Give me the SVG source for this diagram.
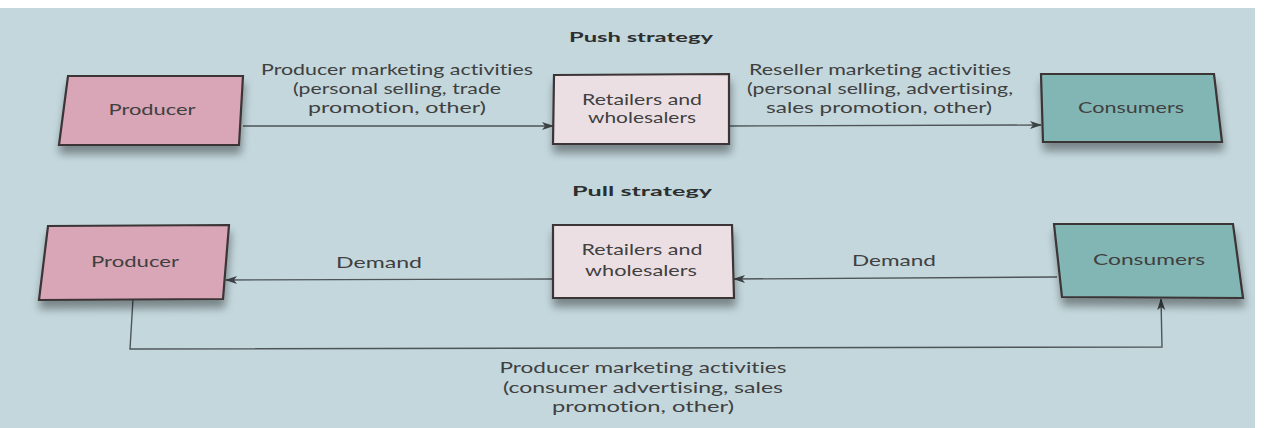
<svg xmlns="http://www.w3.org/2000/svg" width="1267" height="428" viewBox="0 0 1267 428">
<defs>
<style>
.t{font-family:Lato,"Open Sans","Liberation Sans",sans-serif;font-size:16px;fill:#404040;text-anchor:middle;font-variant-ligatures:none}
.h{font-family:Lato,"Open Sans","Liberation Sans",sans-serif;font-size:14px;font-weight:bold;fill:#2e2e2e;text-anchor:middle}
.box{stroke:#3b3436;stroke-width:2.2;stroke-linejoin:miter}
.prod{fill:#d8a6b6}
.ret{fill:#ecdfe4}
.con{fill:#82b6b4}
.ln{fill:none;stroke:#4e5558;stroke-width:1.4}
</style>
<marker id="ah" viewBox="0 0 12 10" refX="11" refY="5" markerWidth="12" markerHeight="10" orient="auto" markerUnits="userSpaceOnUse">
<path d="M0,1 L12,5 L0,9 L3,5 Z" fill="#3e4346"/>
</marker>
<filter id="sh" x="-10%" y="-10%" width="120%" height="150%">
<feGaussianBlur in="SourceAlpha" stdDeviation="4"/>
<feOffset dx="1" dy="8"/>
<feComponentTransfer><feFuncA type="linear" slope="0.38"/></feComponentTransfer>
<feMerge><feMergeNode/><feMergeNode in="SourceGraphic"/></feMerge>
</filter>
</defs>
<rect width="1267" height="428" fill="#c3d7dc"/>
<rect width="1267" height="8" fill="#ffffff"/>
<rect x="1255" width="12" height="428" fill="#ffffff"/>
<text class="h" x="641" y="42" textLength="144" lengthAdjust="spacingAndGlyphs">Push strategy</text>
<text class="h" x="642" y="196" textLength="140" lengthAdjust="spacingAndGlyphs">Pull strategy</text>
<g id="connectors">
<line class="ln" x1="243" y1="126" x2="553" y2="126" marker-end="url(#ah)"/>
<line class="ln" x1="729" y1="126" x2="1041" y2="125" marker-end="url(#ah)"/>
<line class="ln" x1="553" y1="279" x2="226" y2="280" marker-end="url(#ah)"/>
<line class="ln" x1="1057" y1="277" x2="734" y2="279" marker-end="url(#ah)"/>
<polyline class="ln" points="133,299 130,349 1162,347 1161,299" marker-end="url(#ah)"/>
<text class="t" x="397" y="75" textLength="272" lengthAdjust="spacingAndGlyphs">Producer marketing activities</text>
<text class="t" x="397" y="94" textLength="208" lengthAdjust="spacingAndGlyphs">(personal selling, trade</text>
<text class="t" x="397" y="113" textLength="178" lengthAdjust="spacingAndGlyphs">promotion, other)</text>
<text class="t" x="880" y="75" textLength="262" lengthAdjust="spacingAndGlyphs">Reseller marketing activities</text>
<text class="t" x="880" y="94" textLength="266" lengthAdjust="spacingAndGlyphs">(personal selling, advertising,</text>
<text class="t" x="879" y="113" textLength="226" lengthAdjust="spacingAndGlyphs">sales promotion, other)</text>
<text class="t" x="379" y="268" textLength="86" lengthAdjust="spacingAndGlyphs">Demand</text>
<text class="t" x="894" y="266" textLength="84" lengthAdjust="spacingAndGlyphs">Demand</text>
<text class="t" x="643" y="373" textLength="287" lengthAdjust="spacingAndGlyphs">Producer marketing activities</text>
<text class="t" x="643" y="393" textLength="280" lengthAdjust="spacingAndGlyphs">(consumer advertising, sales</text>
<text class="t" x="643" y="412" textLength="182" lengthAdjust="spacingAndGlyphs">promotion, other)</text>
</g>
<g id="push-producer">
<polygon class="box prod" filter="url(#sh)" points="68,76 243,76 239,145 59,145"/>
<text class="t" x="152" y="115" textLength="87" lengthAdjust="spacingAndGlyphs">Producer</text>
</g>
<g id="push-retailers">
<polygon class="box ret" filter="url(#sh)" points="554,75 729,74 729,144 553,144"/>
<text class="t" x="642" y="105" textLength="120" lengthAdjust="spacingAndGlyphs">Retailers and</text>
<text class="t" x="642" y="123" textLength="108" lengthAdjust="spacingAndGlyphs">wholesalers</text>
</g>
<g id="push-consumers">
<polygon class="box con" filter="url(#sh)" points="1041,74 1214,74 1222,142 1043,142"/>
<text class="t" x="1131" y="113" textLength="106" lengthAdjust="spacingAndGlyphs">Consumers</text>
</g>
<g id="pull-producer">
<polygon class="box prod" filter="url(#sh)" points="48,226 229,225 223,299 39,300"/>
<text class="t" x="135" y="267" textLength="88" lengthAdjust="spacingAndGlyphs">Producer</text>
</g>
<g id="pull-retailers">
<polygon class="box ret" filter="url(#sh)" points="553,225 732,225 734,298 553,298"/>
<text class="t" x="642" y="255" textLength="121" lengthAdjust="spacingAndGlyphs">Retailers and</text>
<text class="t" x="641" y="276" textLength="112" lengthAdjust="spacingAndGlyphs">wholesalers</text>
</g>
<g id="pull-consumers">
<polygon class="box con" filter="url(#sh)" points="1054,224 1233,224 1243,298 1062,297"/>
<text class="t" x="1149" y="265" textLength="112" lengthAdjust="spacingAndGlyphs">Consumers</text>
</g>
</svg>
